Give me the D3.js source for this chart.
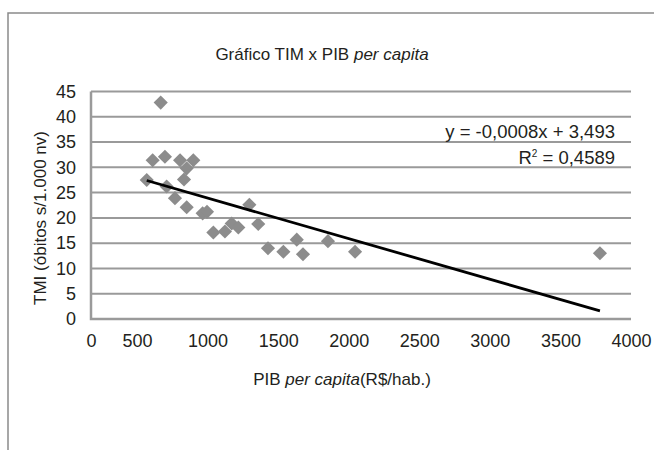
<!DOCTYPE html>
<html>
<head>
<meta charset="utf-8">
<script src="https://cdn.jsdelivr.net/npm/d3@7"></script>
<style>
  body { margin: 0; background: #fff; }
  svg { display: block; font-family: "Liberation Sans", Arial, sans-serif; }
  text { fill: #231f20; }
</style>
</head>
<body>
<div id="chart"></div>
<script>
// PIB per capita (R$/hab.) and TMI (obitos / 1.000 nv)
const pib = [668, 611, 698, 805, 899, 852, 833, 569, 710, 769, 852, 965, 996,
             1041, 1123, 1171, 1218, 1296, 1359, 1428, 1537, 1632, 1676, 1853, 2045, 3780];
const tmi = [42.8, 31.4, 32.1, 31.4, 31.4, 29.8, 27.6, 27.5, 26.2, 23.9, 22.1, 20.9, 21.2,
             17.1, 17.3, 18.9, 18.1, 22.6, 18.8, 14.0, 13.3, 15.7, 12.8, 15.4, 13.3, 13.0];

// trend line end points
const trendX = [569, 3780];
const trendY = [27.4, 1.6];

const xTicks = [0, 500, 1000, 1500, 2000, 2500, 3000, 3500, 4000];
const yTicks = [0, 5, 10, 15, 20, 25, 30, 35, 40, 45];

const W = 654, H = 450;
const plot = { left: 91, right: 631, top: 91.5, bottom: 319 };
const grey = "#9a9a9a";

const svg = d3.select("#chart").append("svg")
    .attr("width", W)
    .attr("height", H);

// outer frame (only top and left edges show)
svg.append("path")
    .attr("d", `M8,${H} V13 H${W}`)
    .attr("fill", "none")
    .attr("stroke", "#8a8a8a")
    .attr("stroke-width", 1.5);

// the printed axis squeezes 0..500 a little
const x = d3.scaleLinear()
    .domain([0, 500, 4000])
    .range([plot.left, 137, plot.right]);

const y = d3.scaleLinear()
    .domain([0, 45])
    .range([plot.bottom, plot.top]);

// gridlines
svg.append("g")
  .selectAll("line")
    .data(yTicks.filter(d => d > 0))
  .enter().append("line")
    .attr("x1", plot.left)
    .attr("x2", plot.right)
    .attr("y1", d => y(d))
    .attr("y2", d => y(d))
    .attr("stroke", grey)
    .attr("stroke-width", 2);

// axes
const yAxis = svg.append("g")
    .attr("transform", `translate(${plot.left},0)`)
    .call(d3.axisLeft(y).tickValues(yTicks).tickSize(0).tickPadding(15));
const xAxis = svg.append("g")
    .attr("transform", `translate(0,${plot.bottom})`)
    .call(d3.axisBottom(x).tickValues(xTicks).tickFormat(d3.format("d")).tickSize(0).tickPadding(15));

[yAxis, xAxis].forEach(g => {
    g.select(".domain").remove();
    g.selectAll("text")
        .attr("fill", "#231f20")
        .style("font-size", "18px")
        .style("font-family", "Liberation Sans, Arial, sans-serif");
});

svg.append("path")
    .attr("d", `M${plot.left},${plot.top} V${plot.bottom} H${plot.right}`)
    .attr("fill", "none")
    .attr("stroke", grey)
    .attr("stroke-width", 2.5);

// points
const diamond = d3.symbol().type(d3.symbolSquare).size(100);
svg.append("g")
  .selectAll("path")
    .data(pib.map((p, i) => ({ pib: p, tmi: tmi[i] })))
  .enter().append("path")
    .attr("d", diamond)
    .attr("transform", d => `translate(${x(d.pib)},${y(d.tmi)}) rotate(45)`)
    .attr("fill", "#8c8c8c");

// trend line
const line = d3.line()
    .x(d => x(d[0]))
    .y(d => y(d[1]));

svg.append("path")
    .datum(trendX.map((t, i) => [t, trendY[i]]))
    .attr("d", line)
    .attr("fill", "none")
    .attr("stroke", "#000")
    .attr("stroke-width", 2.8);

// equation
svg.append("text")
    .attr("x", 615)
    .attr("y", 138)
    .attr("text-anchor", "end")
    .style("font-size", "18.5px")
    .text("y = -0,0008x + 3,493");

const r2 = svg.append("text")
    .attr("x", 615)
    .attr("y", 164)
    .attr("text-anchor", "end")
    .style("font-size", "18.5px");
r2.append("tspan").text("R");
r2.append("tspan").attr("dy", -7).style("font-size", "10px").text("2");
r2.append("tspan").attr("dy", 7).text(" = 0,4589");

// title
const title = svg.append("text")
    .attr("x", 322)
    .attr("y", 60)
    .attr("text-anchor", "middle")
    .style("font-size", "17px");
title.append("tspan").text("Gráfico TIM x PIB ");
title.append("tspan").style("font-style", "italic").text("per capita");

// x label
const xLabel = svg.append("text")
    .attr("x", 342)
    .attr("y", 385)
    .attr("text-anchor", "middle")
    .style("font-size", "17px");
xLabel.append("tspan").text("PIB ");
xLabel.append("tspan").style("font-style", "italic").text("per capita");
xLabel.append("tspan").text("(R$/hab.)");

// y label
svg.append("text")
    .attr("transform", "translate(46,218) rotate(-90)")
    .attr("text-anchor", "middle")
    .style("font-size", "17px")
    .text("TMI (óbitos s/1.000 nv)");
</script>
</body>
</html>
